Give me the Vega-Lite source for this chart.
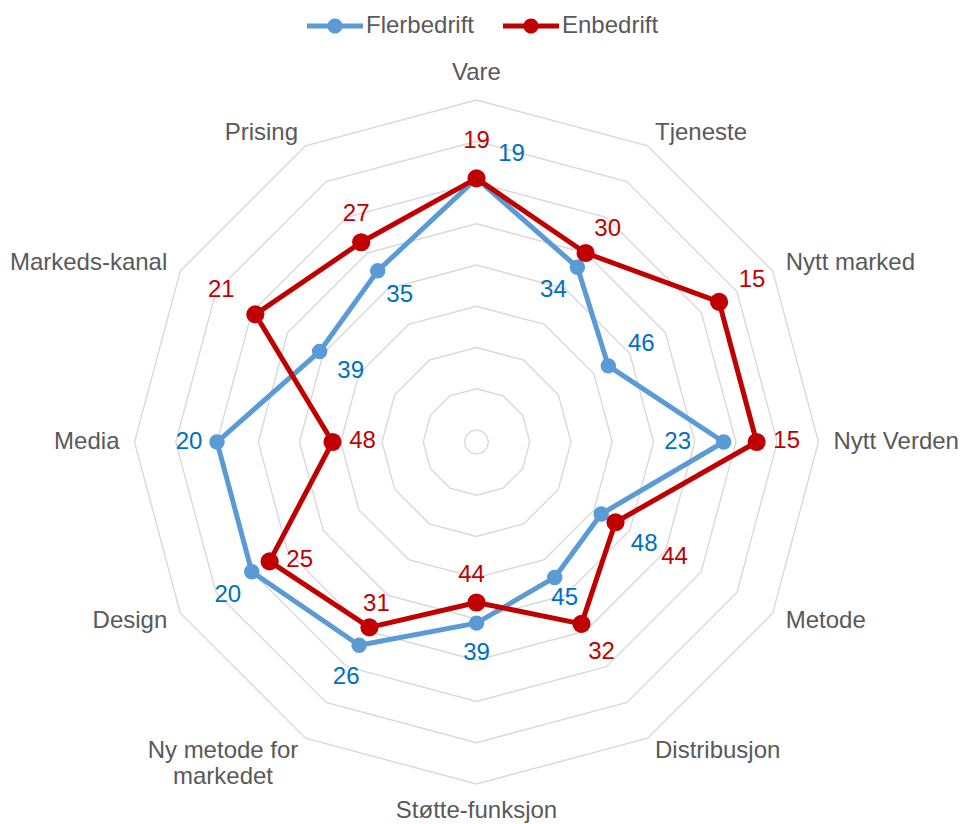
{
"$schema":"https://vega.github.io/schema/vega-lite/v6.json",
"width":960,"height":824,"padding":0,"autosize":{"type":"none"},
"background":"#ffffff",
"config":{"view":{"stroke":null},"font":"Liberation Sans","text":{"font":"Liberation Sans"}},
"data":{"values":[
 {"cat":"Vare","series":"Flerbedrift","value":19},
 {"cat":"Tjeneste","series":"Flerbedrift","value":34},
 {"cat":"Nytt marked","series":"Flerbedrift","value":46},
 {"cat":"Nytt Verden","series":"Flerbedrift","value":23},
 {"cat":"Metode","series":"Flerbedrift","value":48},
 {"cat":"Distribusjon","series":"Flerbedrift","value":45},
 {"cat":"Støtte-funksjon","series":"Flerbedrift","value":39},
 {"cat":"Ny metode for markedet","series":"Flerbedrift","value":26},
 {"cat":"Design","series":"Flerbedrift","value":20},
 {"cat":"Media","series":"Flerbedrift","value":20},
 {"cat":"Markeds-kanal","series":"Flerbedrift","value":39},
 {"cat":"Prising","series":"Flerbedrift","value":35},
 {"cat":"Vare","series":"Enbedrift","value":19},
 {"cat":"Tjeneste","series":"Enbedrift","value":30},
 {"cat":"Nytt marked","series":"Enbedrift","value":15},
 {"cat":"Nytt Verden","series":"Enbedrift","value":15},
 {"cat":"Metode","series":"Enbedrift","value":44},
 {"cat":"Distribusjon","series":"Enbedrift","value":32},
 {"cat":"Støtte-funksjon","series":"Enbedrift","value":44},
 {"cat":"Ny metode for markedet","series":"Enbedrift","value":31},
 {"cat":"Design","series":"Enbedrift","value":25},
 {"cat":"Media","series":"Enbedrift","value":48},
 {"cat":"Markeds-kanal","series":"Enbedrift","value":21},
 {"cat":"Prising","series":"Enbedrift","value":27}
]},
"transform":[
 {"calculate":"indexof(['Vare','Tjeneste','Nytt marked','Nytt Verden','Metode','Distribusjon','Støtte-funksjon','Ny metode for markedet','Design','Media','Markeds-kanal','Prising'], datum.cat)","as":"i"},
 {"calculate":"datum.i*PI/6","as":"ang"},
 {"calculate":"(82.909-datum.value)*sin(datum.ang)","as":"px"},
 {"calculate":"(82.909-datum.value)*cos(datum.ang)","as":"py"}
],
"encoding":{
 "x":{"field":"px","type":"quantitative","scale":{"domain":[-115.515,117.212],"nice":false,"zero":false},"axis":null},
 "y":{"field":"py","type":"quantitative","scale":{"domain":[-92.606,107.152],"nice":false,"zero":false},"axis":null}
},
"layer":[
 {"transform":[{"filter":"datum.series=='Flerbedrift'"},{"calculate":"[0,10,20,30,40,50,60,70,80]","as":"lv"},{"flatten":["lv"]},{"calculate":"(82.909-datum.lv)*sin(datum.ang)","as":"px"},{"calculate":"(82.909-datum.lv)*cos(datum.ang)","as":"py"}],
  "mark":{"type":"line","interpolate":"linear-closed","stroke":"#D9D9D9","strokeWidth":1.4},
  "encoding":{"detail":{"field":"lv","type":"nominal"},"order":{"field":"i","type":"quantitative"}}},
 {"transform":[{"filter":"datum.series=='Flerbedrift'"}],
  "mark":{"type":"line","interpolate":"linear-closed","color":"#5B9BD5","strokeWidth":5,"strokeJoin":"round"},
  "encoding":{"order":{"field":"i","type":"quantitative"}}},
 {"transform":[{"filter":"datum.series=='Flerbedrift'"}],
  "mark":{"type":"point","filled":true,"size":240,"opacity":1,"strokeWidth":0},
  "encoding":{"color":{"field":"series","type":"nominal","scale":{"domain":["Flerbedrift","Enbedrift"],"range":["#5B9BD5","#C00000"]},
   "legend":{"title":null,"orient":"none","legendX":307,"legendY":-2,"direction":"horizontal","symbolType":"M-1,-0.09L1,-0.09L1,0.09L-1,0.09Z M0.27,0A0.27,0.27 0 1 1 -0.27,0A0.27,0.27 0 1 1 0.27,0Z","symbolSize":3136,"symbolStrokeWidth":0,"symbolOpacity":1,"labelFontSize":24,"labelColor":"#595959","labelFont":"Liberation Sans","labelOffset":3,"columnPadding":28,"padding":0}}}},
 {"transform":[{"filter":"datum.series=='Enbedrift'"}],
  "mark":{"type":"line","interpolate":"linear-closed","color":"#C00000","strokeWidth":5,"strokeJoin":"round"},
  "encoding":{"order":{"field":"i","type":"quantitative"}}},
 {"transform":[{"filter":"datum.series=='Enbedrift'"}],
  "mark":{"type":"point","filled":true,"size":330,"opacity":1,"strokeWidth":0},
  "encoding":{"color":{"field":"series","type":"nominal"}}},
 {"transform":[{"filter":"datum.series=='Flerbedrift'"},{"calculate":"86.55*sin(datum.ang)","as":"px"},{"calculate":"86.55*cos(datum.ang)","as":"py"}],
  "encoding":{"text":{"field":"cat","type":"nominal"}},
  "layer":[
   {"transform":[{"filter":"datum.i>=1 && datum.i<=5"}],"mark":{"type":"text","align":"left","baseline":"middle","fontSize":24,"color":"#595959"}},
   {"transform":[{"filter":"datum.i>=8"}],"mark":{"type":"text","align":"right","baseline":"middle","fontSize":24,"color":"#595959"}},
   {"transform":[{"filter":"datum.i==0"}],"mark":{"type":"text","align":"center","baseline":"bottom","fontSize":24,"color":"#595959"}},
   {"transform":[{"filter":"datum.i==6"}],"mark":{"type":"text","align":"center","baseline":"top","fontSize":24,"color":"#595959"}},
   {"transform":[{"filter":"datum.i==7"},{"calculate":"[slice(datum.cat,0,13), slice(datum.cat,14)]","as":"lbl"}],
    "mark":{"type":"text","align":"center","baseline":"middle","fontSize":24,"color":"#595959","dx":-75,"lineHeight":26},
    "encoding":{"text":{"field":"lbl","type":"nominal"}}}
  ]},
 {"encoding":{"text":{"field":"value","type":"quantitative"},
   "fill":{"field":"series","type":"nominal","scale":{"domain":["Flerbedrift","Enbedrift"],"range":["#0070C0","#C00000"]},"legend":null}},
  "layer":[
   {"transform":[{"filter":"datum.series=='Enbedrift' && datum.cat=='Vare'"}],"mark":{"type":"text","fontSize":24,"dx":0,"dy":-37}},
   {"transform":[{"filter":"datum.series=='Enbedrift' && datum.cat=='Tjeneste'"}],"mark":{"type":"text","fontSize":24,"dx":22,"dy":-24}},
   {"transform":[{"filter":"datum.cat=='Nytt marked'"}],"mark":{"type":"text","fontSize":24,"dx":33,"dy":-22}},
   {"transform":[{"filter":"datum.series=='Enbedrift' && indexof(['Nytt Verden','Design','Media'],datum.cat)>=0"}],"mark":{"type":"text","fontSize":24,"dx":30,"dy":-1}},
   {"transform":[{"filter":"datum.series=='Enbedrift' && datum.cat=='Metode'"}],"mark":{"type":"text","fontSize":24,"dx":59,"dy":35}},
   {"transform":[{"filter":"datum.series=='Enbedrift' && datum.cat=='Distribusjon'"}],"mark":{"type":"text","fontSize":24,"dx":20,"dy":28}},
   {"transform":[{"filter":"datum.series=='Enbedrift' && indexof(['Støtte-funksjon','Prising'],datum.cat)>=0"}],"mark":{"type":"text","fontSize":24,"dx":-5,"dy":-28}},
   {"transform":[{"filter":"datum.series=='Enbedrift' && datum.cat=='Ny metode for markedet'"}],"mark":{"type":"text","fontSize":24,"dx":7,"dy":-23}},
   {"transform":[{"filter":"datum.series=='Enbedrift' && datum.cat=='Markeds-kanal'"}],"mark":{"type":"text","fontSize":24,"dx":-34,"dy":-24}},
   {"transform":[{"filter":"datum.series=='Flerbedrift' && datum.cat=='Vare'"}],"mark":{"type":"text","fontSize":24,"dx":35,"dy":-24}},
   {"transform":[{"filter":"datum.series=='Flerbedrift' && indexof(['Tjeneste','Design'],datum.cat)>=0"}],"mark":{"type":"text","fontSize":24,"dx":-24,"dy":23}},
   {"transform":[{"filter":"datum.series=='Flerbedrift' && datum.cat=='Nytt Verden'"}],"mark":{"type":"text","fontSize":24,"dx":-46,"dy":0}},
   {"transform":[{"filter":"datum.series=='Flerbedrift' && datum.cat=='Metode'"}],"mark":{"type":"text","fontSize":24,"dx":43,"dy":30}},
   {"transform":[{"filter":"datum.series=='Flerbedrift' && datum.cat=='Distribusjon'"}],"mark":{"type":"text","fontSize":24,"dx":10,"dy":21}},
   {"transform":[{"filter":"datum.series=='Flerbedrift' && datum.cat=='Støtte-funksjon'"}],"mark":{"type":"text","fontSize":24,"dx":0,"dy":30}},
   {"transform":[{"filter":"datum.series=='Flerbedrift' && datum.cat=='Ny metode for markedet'"}],"mark":{"type":"text","fontSize":24,"dx":-13,"dy":32}},
   {"transform":[{"filter":"datum.series=='Flerbedrift' && datum.cat=='Media'"}],"mark":{"type":"text","fontSize":24,"dx":-28,"dy":0}},
   {"transform":[{"filter":"datum.series=='Flerbedrift' && datum.cat=='Markeds-kanal'"}],"mark":{"type":"text","fontSize":24,"dx":31,"dy":20}},
   {"transform":[{"filter":"datum.series=='Flerbedrift' && datum.cat=='Prising'"}],"mark":{"type":"text","fontSize":24,"dx":22,"dy":24}}
  ]}
]
}
